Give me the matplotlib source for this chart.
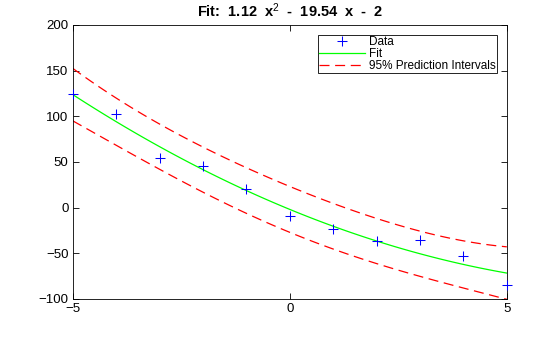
import numpy as np
import matplotlib.pyplot as plt

plt.rcParams['font.family'] = 'Liberation Sans'
plt.rcParams['mathtext.fontset'] = 'custom'
plt.rcParams['mathtext.rm'] = 'Liberation Sans'
plt.rcParams['mathtext.it'] = 'Liberation Sans'
plt.rcParams['mathtext.bf'] = 'Liberation Sans:bold'

# measured data
x_data = np.array([-5, -4, -3, -2, -1, 0, 1, 2, 3, 4, 5])
y_data = np.array([124.3, 102.7, 54.6, 45.6, 20.3, -9.5, -23.8, -37.0, -35.9, -53.4, -85.3])

# quadratic fit coefficients (highest power first)
coefs = [1.12, -19.54, -2]
t_95 = 2.306  # t quantile, 8 dof

# fit curve and 95% prediction intervals
xf = np.linspace(-5, 5, 101)
yf = np.polyval(coefs, xf)
A = np.vander(x_data, 3)
resid = y_data - np.polyval(coefs, x_data)
s = np.sqrt(np.sum(resid**2) / (len(x_data) - 3))
AtA_inv = np.linalg.inv(A.T @ A)
Af = np.vander(xf, 3)
lev = np.einsum('ij,jk,ik->i', Af, AtA_inv, Af)
delta = t_95 * s * np.sqrt(1 + lev)

fig = plt.figure(figsize=(5.6, 3.37), dpi=100)
ax = fig.add_axes([0.13, 0.113, 0.775, 0.813])

ax.plot(x_data, y_data, '+', color='blue', markersize=7, mew=0.75, label='Data',
        clip_on=False, zorder=4)
ax.plot(xf, yf, color=(0, 1, 0), lw=0.9, label='Fit')
ax.plot(xf, yf + delta, color='red', lw=0.9, dashes=(8, 4.5), label='95% Prediction Intervals')
ax.plot(xf, yf - delta, color='red', lw=0.9, dashes=(8, 4.5))

ax.set_xlim(-5, 5)
ax.set_ylim(-100, 200)
ax.set_xticks([-5, 0, 5])
ax.set_yticks(np.arange(-100, 201, 50))
ax.tick_params(direction='in', top=True, right=True, labelsize=9.5, length=4, width=0.6, pad=3)
for sp in ax.spines.values():
    sp.set_linewidth(0.6)

ax.set_title('Fit:  1.12  x$^{2}$  -  19.54  x  -  2', fontsize=10.5, fontweight='bold', pad=6)

leg = ax.legend(loc='upper right', fontsize=8.5, fancybox=False, framealpha=1,
                edgecolor='black', borderaxespad=0.85, handlelength=3.9,
                borderpad=0.1, labelspacing=0.0, handletextpad=0.3)
leg.get_frame().set_linewidth(0.6)

fig.savefig('out.png', dpi=100)
